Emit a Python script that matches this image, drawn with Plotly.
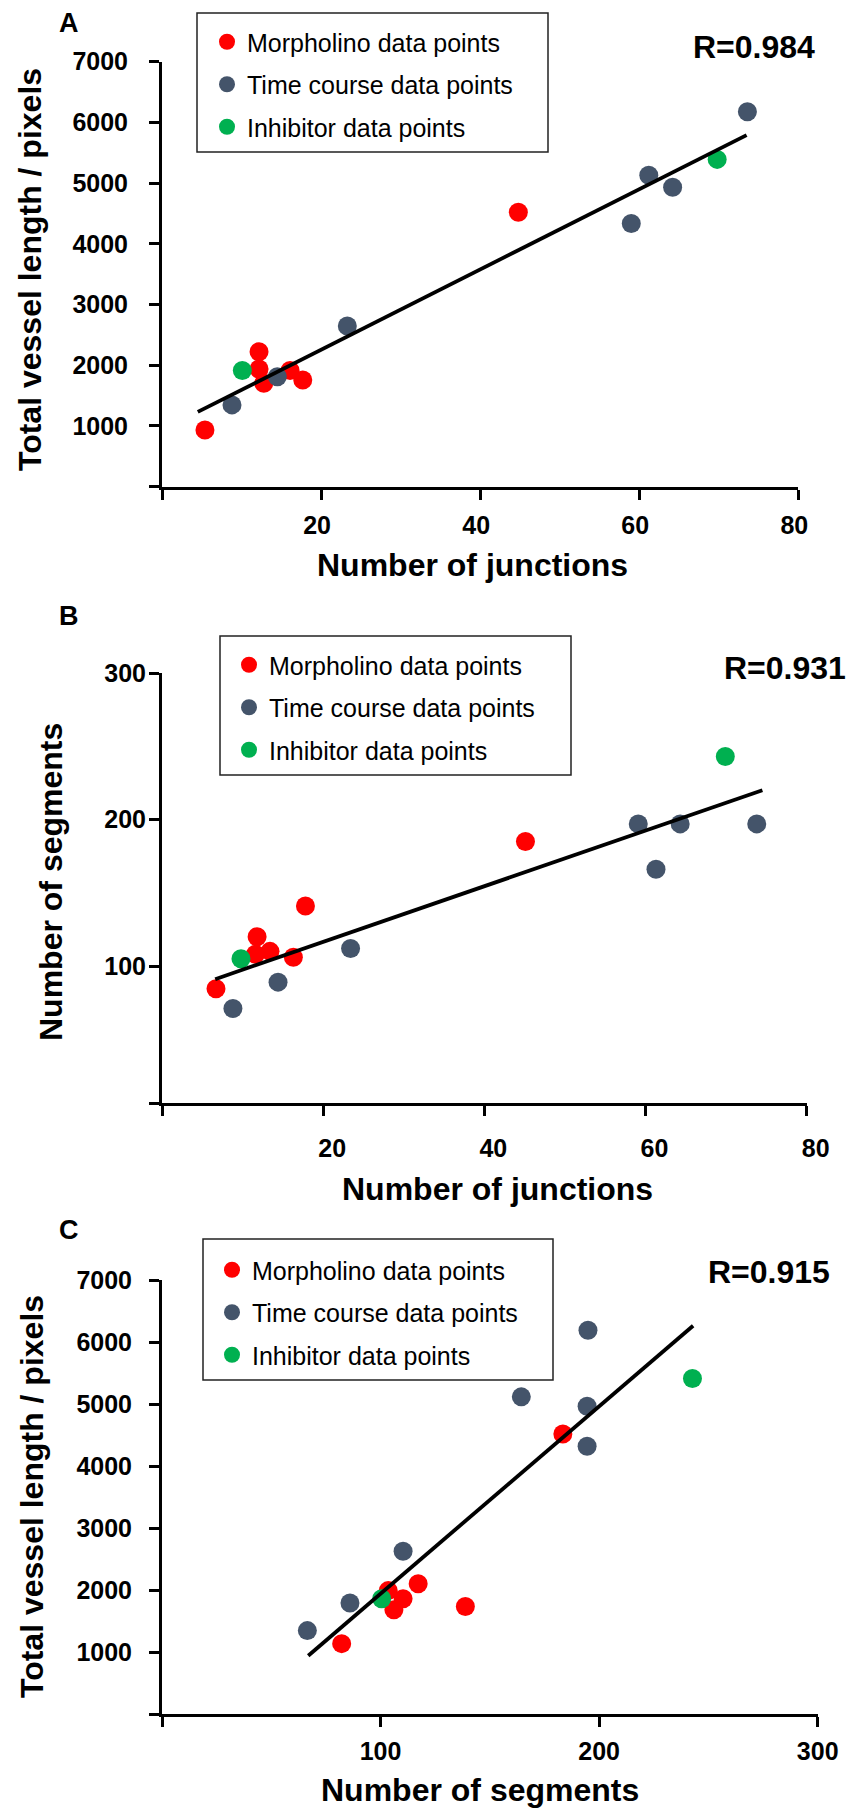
import plotly.graph_objects as go

W, H = 850, 1811
FONT = "Liberation Sans, Arial, sans-serif"

# ---------------- data ----------------
# Panel A: Number of junctions vs Total vessel length
a_morph_x = [5.4, 12.2, 12.2, 12.8, 16.1, 17.7, 44.8]
a_morph_y = [930, 2220, 1935, 1700, 1910, 1755, 4520]
a_time_x = [8.8, 14.5, 23.3, 59.0, 61.2, 64.2, 73.6]
a_time_y = [1345, 1810, 2645, 4335, 5130, 4930, 6175]
a_inhib_x = [10.1, 69.8]
a_inhib_y = [1910, 5390]
a_fit_x = [4.5, 73.5]
a_fit_y = [1230, 5790]

# Panel B: Number of junctions vs Number of segments
b_morph_x = [6.7, 11.8, 11.6, 13.4, 16.3, 17.8, 45.1]
b_morph_y = [84.5, 120, 108, 110, 106, 141, 185]
b_time_x = [8.8, 14.4, 23.4, 59.1, 61.3, 64.3, 73.8]
b_time_y = [71, 89, 112, 197, 166, 197, 197]
b_inhib_x = [9.8, 69.9]
b_inhib_y = [105, 243]
b_fit_x = [6.6, 74.5]
b_fit_y = [91, 220]

# Panel C: Number of segments vs Total vessel length
c_morph_x = [82.2, 103.5, 106.1, 110.3, 117.2, 138.8, 183.4]
c_morph_y = [1135, 1990, 1680, 1860, 2100, 1735, 4515]
c_time_x = [66.5, 86.0, 110.3, 164.4, 194.5, 194.5, 194.9]
c_time_y = [1345, 1790, 2625, 5115, 4965, 4320, 6190]
c_inhib_x = [100.5, 242.7]
c_inhib_y = [1860, 5410]
c_fit_x = [66.9, 243]
c_fit_y = [940, 6263]

series_names = ["Morpholino data points", "Time course data points", "Inhibitor data points"]
series_colors = ["#FF0000", "#44546A", "#00B050"]

panel_labels = ["A", "B", "C"]
r_labels = ["R=0.984", "R=0.931", "R=0.915"]
x_titles = ["Number of junctions", "Number of junctions", "Number of segments"]
y_titles = ["Total vessel length / pixels", "Number of segments", "Total vessel length / pixels"]

a_xticks = [0, 20, 40, 60, 80]
a_yticks = [0, 1000, 2000, 3000, 4000, 5000, 6000, 7000]
b_xticks = [0, 20, 40, 60, 80]
b_yticks = [6.5, 100, 200, 300]
c_xticks = [0, 100, 200, 300]
c_yticks = [0, 1000, 2000, 3000, 4000, 5000, 6000, 7000]


def px(p):
    return p / W


def py(p):
    return 1 - p / H


def lbl(vals, lo):
    return ["" if v == lo else str(int(v)) for v in vals]


panels = [
    dict(data=[(a_morph_x, a_morph_y), (a_time_x, a_time_y), (a_inhib_x, a_inhib_y)],
         fit=(a_fit_x, a_fit_y), xr=[0, 80], yr=[0, 7000], xt=a_xticks, yt=a_yticks,
         xdom=(162, 798.3), ydom=(61.7, 486.5), ystand=16, xstand=4, xshift=-4,
         legend=(207, 19), box=(197, 13, 548, 152),
         r=(817, 47), lab=(69, 23), xt_pos=(472, 565), yt_pos=(30, 270)),
    dict(data=[(b_morph_x, b_morph_y), (b_time_x, b_time_y), (b_inhib_x, b_inhib_y)],
         fit=(b_fit_x, b_fit_y), xr=[0, 80], yr=[6.5, 300], xt=b_xticks, yt=b_yticks,
         xdom=(162, 806.7), ydom=(673, 1103), ystand=-2, xstand=11, xshift=9,
         legend=(229, 642), box=(220, 636, 571, 775),
         r=(848, 668), lab=(69, 616), xt_pos=(497, 1189), yt_pos=(51, 882)),
    dict(data=[(c_morph_x, c_morph_y), (c_time_x, c_time_y), (c_inhib_x, c_inhib_y)],
         fit=(c_fit_x, c_fit_y), xr=[0, 300], yr=[0, 7000], xt=c_xticks, yt=c_yticks,
         xdom=(162, 817.7), ydom=(1280, 1714), ystand=12, xstand=3, xshift=0,
         legend=(212, 1247), box=(203, 1239, 553, 1380),
         r=(832, 1272), lab=(69, 1230), xt_pos=(480, 1790), yt_pos=(32, 1497)),
]

fig = go.Figure()
shapes = []
annotations = []
layout = {}

axis_common = dict(showline=True, linecolor="black", linewidth=3, ticks="outside",
                   ticklen=10, tickwidth=3, tickcolor="black", showgrid=False,
                   zeroline=False, fixedrange=True, automargin=False,
                   tickfont=dict(family=FONT, size=25, color="black", weight="bold"))

for i, p in enumerate(panels):
    n = "" if i == 0 else str(i + 1)
    xa, ya = "x" + n, "y" + n
    leg = "legend" + n
    for j, (xs, ys) in enumerate(p["data"]):
        fig.add_trace(go.Scatter(
            x=xs, y=ys, mode="markers", name=series_names[j],
            marker=dict(color=series_colors[j], size=19, line=dict(width=0)),
            xaxis=xa, yaxis=ya, legend=leg, legendgroup=f"{i}-{j}",
            showlegend=True, cliponaxis=False))
    fig.add_trace(go.Scatter(
        x=p["fit"][0], y=p["fit"][1], mode="lines",
        line=dict(color="black", width=3.8), xaxis=xa, yaxis=ya,
        showlegend=False, cliponaxis=False))

    layout["xaxis" + n] = dict(axis_common, range=p["xr"], domain=[px(p["xdom"][0]), px(p["xdom"][1])],
                               anchor=ya, tickvals=p["xt"], ticktext=lbl(p["xt"], p["xr"][0]),
                               ticklabelstandoff=p["xstand"], ticklabelshift=p["xshift"])
    layout["yaxis" + n] = dict(axis_common, range=p["yr"], domain=[py(p["ydom"][1]), py(p["ydom"][0])],
                               anchor=xa, tickvals=p["yt"], ticktext=lbl(p["yt"], p["yr"][0]),
                               ticklabelstandoff=p["ystand"])
    layout[leg] = dict(x=px(p["legend"][0]), y=py(p["legend"][1]), xanchor="left", yanchor="top",
                       bgcolor="rgba(0,0,0,0)", borderwidth=0, tracegroupgap=7,
                       font=dict(family=FONT, size=25, color="black"))
    b = p["box"]
    shapes.append(dict(type="rect", xref="paper", yref="paper",
                       x0=px(b[0]), x1=px(b[2]), y0=py(b[3]), y1=py(b[1]),
                       line=dict(color="#222222", width=1.5)))
    annotations.append(dict(text=r_labels[i], xref="paper", yref="paper",
                            x=px(p["r"][0]), y=py(p["r"][1]), xanchor="right", yanchor="middle",
                            showarrow=False, font=dict(family=FONT, size=32, color="black", weight="bold")))
    annotations.append(dict(text=panel_labels[i], xref="paper", yref="paper",
                            x=px(p["lab"][0]), y=py(p["lab"][1]), xanchor="center", yanchor="middle",
                            showarrow=False, font=dict(family=FONT, size=27, color="black", weight="bold")))
    annotations.append(dict(text=x_titles[i], xref="paper", yref="paper",
                            x=px(p["xt_pos"][0]), y=py(p["xt_pos"][1]), xanchor="center", yanchor="middle",
                            showarrow=False, font=dict(family=FONT, size=32, color="black", weight="bold")))
    annotations.append(dict(text=y_titles[i], xref="paper", yref="paper", textangle=-90,
                            x=px(p["yt_pos"][0]), y=py(p["yt_pos"][1]), xanchor="center", yanchor="middle",
                            showarrow=False, font=dict(family=FONT, size=32, color="black", weight="bold")))

fig.update_layout(**layout)
fig.update_layout(width=W, height=H, margin=dict(l=0, r=0, t=0, b=0, pad=0, autoexpand=False),
                  paper_bgcolor="white", plot_bgcolor="white",
                  shapes=shapes, annotations=annotations, showlegend=True)

fig.write_html("out.html", config={"displayModeBar": False},
               post_script="document.body.style.margin='0px';document.body.style.padding='0px';")
